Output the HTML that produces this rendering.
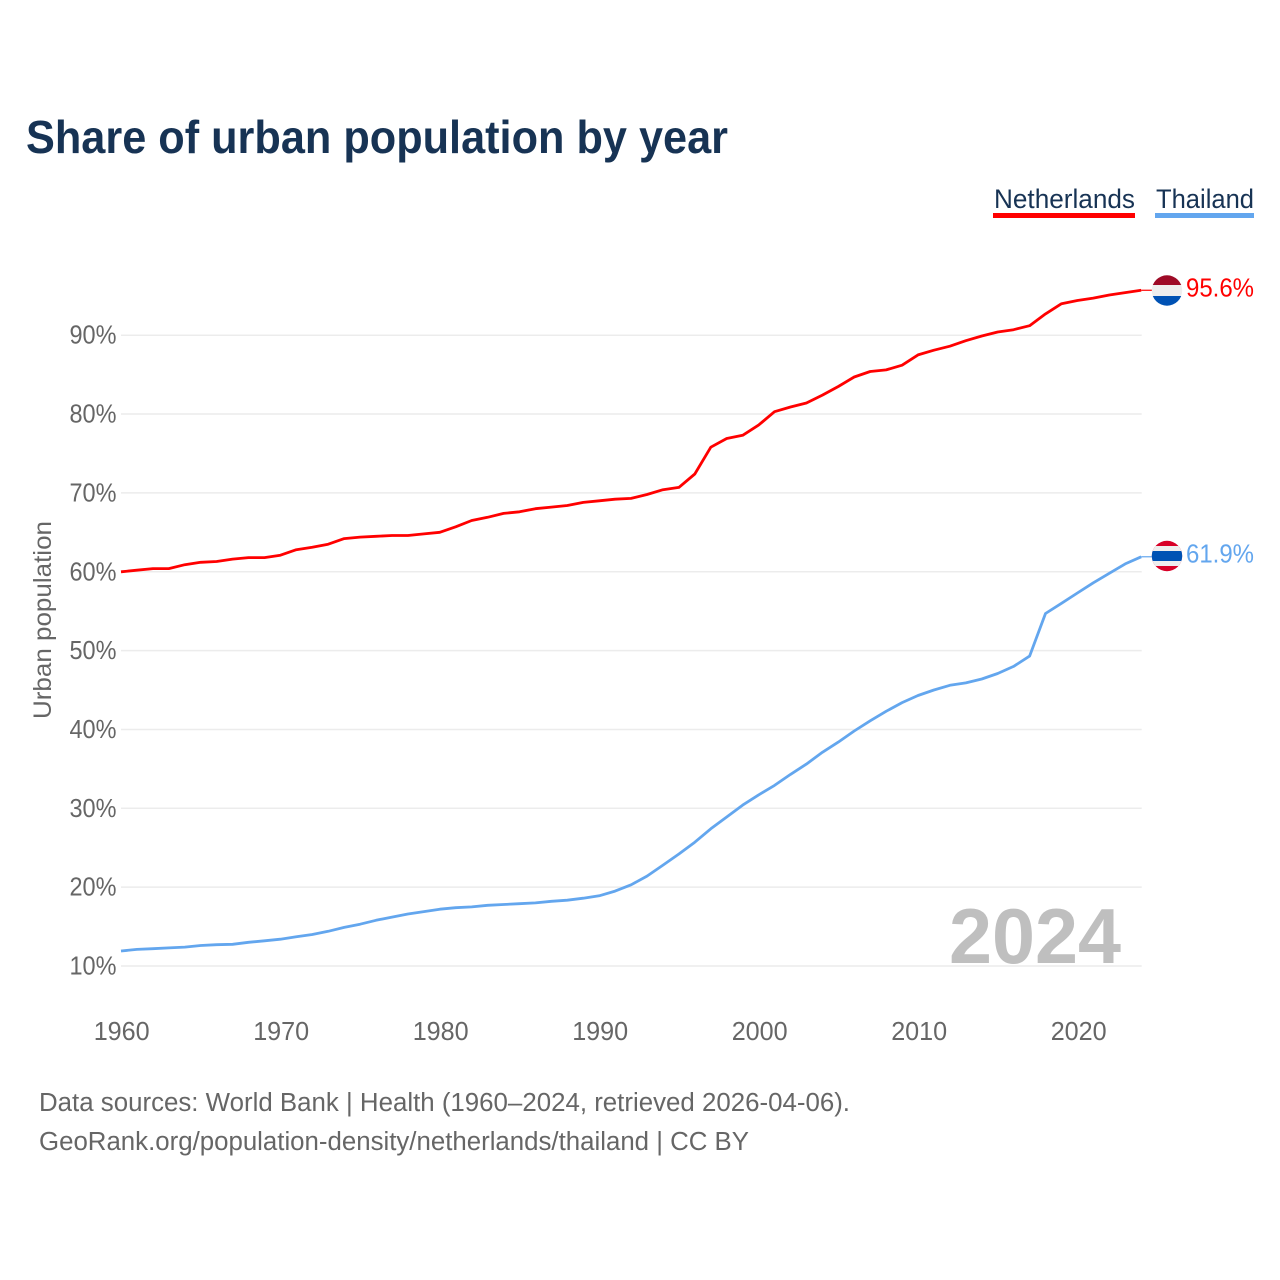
<!DOCTYPE html>
<html lang="en">
<head>
<meta charset="utf-8">
<title>Share of urban population by year</title>
<style>
html,body{margin:0;padding:0;background:#fff;}
svg{display:block;font-family:"Liberation Sans",sans-serif;}
</style>
</head>
<body>
<svg id="chart" xmlns="http://www.w3.org/2000/svg" width="1280" height="1280" viewBox="0 0 1280 1280">
  <defs>
    <clipPath id="clip-nl"><circle cx="1167" cy="290.5" r="15.2"/></clipPath>
    <clipPath id="clip-th"><circle cx="1167" cy="556" r="15.2"/></clipPath>
  </defs>
  <rect width="1280" height="1280" fill="#fff"/>
  <text x="26" y="153" font-size="46" font-weight="700" fill="#173354" textLength="702" lengthAdjust="spacingAndGlyphs">Share of urban population by year</text>

  <g>
    <text x="994" y="208" font-size="27" fill="#173354" textLength="141" lengthAdjust="spacingAndGlyphs">Netherlands</text>
    <rect x="993" y="213" width="142" height="5" fill="#ff0000"/>
  </g>
  <g>
    <text x="1156" y="208" font-size="27" fill="#173354" textLength="98" lengthAdjust="spacingAndGlyphs">Thailand</text>
    <rect x="1155" y="213" width="99" height="5" fill="#63a6ee"/>
  </g>

  <g id="grid"></g>
  <g id="yticks"></g>
  <g id="xticks"></g>
  <text transform="translate(51,719) rotate(-90)" font-size="25" fill="#666666" textLength="198" lengthAdjust="spacingAndGlyphs">Urban population</text>

  <text x="1121" y="963" text-anchor="end" font-size="78" font-weight="700" fill="#bfbfbf" textLength="172" lengthAdjust="spacingAndGlyphs">2024</text>

  <g id="series"></g>

  <g clip-path="url(#clip-nl)">
    <rect x="1151" y="275" width="32" height="10" fill="#9e0b27"/>
    <rect x="1151" y="285" width="32" height="11" fill="#eeeeee"/>
    <rect x="1151" y="296" width="32" height="11" fill="#0052b4"/>
  </g>
  <g clip-path="url(#clip-th)">
    <rect x="1151" y="540" width="32" height="32" fill="#d80027"/>
    <rect x="1151" y="546" width="32" height="20" fill="#eeeeee"/>
    <rect x="1151" y="551" width="32" height="10" fill="#0052b4"/>
  </g>
  <text x="1186" y="296.5" font-size="25.5" fill="#ff0000" textLength="68" lengthAdjust="spacingAndGlyphs">95.6%</text>
  <text x="1186" y="562.5" font-size="25.5" fill="#63a6ee" textLength="68" lengthAdjust="spacingAndGlyphs">61.9%</text>

  <text x="39" y="1111" font-size="25.5" fill="#666666" textLength="811" lengthAdjust="spacingAndGlyphs">Data sources: World Bank | Health (1960–2024, retrieved 2026-04-06).</text>
  <text x="39" y="1150" font-size="25.5" fill="#666666" textLength="710" lengthAdjust="spacingAndGlyphs">GeoRank.org/population-density/netherlands/thailand | CC BY</text>
</svg>
<script>
const years = [1960,1961,1962,1963,1964,1965,1966,1967,1968,1969,1970,1971,1972,1973,1974,1975,1976,1977,1978,1979,1980,1981,1982,1983,1984,1985,1986,1987,1988,1989,1990,1991,1992,1993,1994,1995,1996,1997,1998,1999,2000,2001,2002,2003,2004,2005,2006,2007,2008,2009,2010,2011,2012,2013,2014,2015,2016,2017,2018,2019,2020,2021,2022,2023,2024];
const netherlands = [60.0,60.2,60.4,60.4,60.9,61.2,61.3,61.6,61.8,61.8,62.1,62.8,63.1,63.5,64.2,64.4,64.5,64.6,64.6,64.8,65.0,65.7,66.5,66.9,67.4,67.6,68.0,68.2,68.4,68.8,69.0,69.2,69.3,69.8,70.4,70.7,72.4,75.8,76.9,77.3,78.6,80.3,80.9,81.4,82.4,83.5,84.7,85.4,85.6,86.2,87.5,88.1,88.6,89.3,89.9,90.4,90.7,91.2,92.7,94.0,94.4,94.7,95.1,95.4,95.7];
const thailand = [11.9,12.1,12.2,12.3,12.4,12.6,12.7,12.75,13.0,13.2,13.4,13.7,14.0,14.4,14.9,15.3,15.8,16.2,16.6,16.9,17.2,17.4,17.5,17.7,17.8,17.9,18.0,18.2,18.35,18.6,18.9,19.5,20.3,21.4,22.8,24.2,25.7,27.4,28.9,30.4,31.7,32.9,34.3,35.6,37.1,38.4,39.8,41.1,42.3,43.4,44.3,45.0,45.6,45.9,46.4,47.1,48.0,49.3,54.7,56.0,57.3,58.6,59.8,61.0,61.9];
const yTickValues = [10,20,30,40,50,60,70,80,90];
const xTickValues = [1960,1970,1980,1990,2000,2010,2020];

const SVG_NS = 'http://www.w3.org/2000/svg';
function xScale(year) { return 121 + (year - 1960) * 15.94; }
function xLabelScale(year) { return 121.7 + (year - 1960) * 15.95; }
function yScale(pct) { return 966 - (pct - 10) * 7.885; }

function make(tag, parent, attrs) {
  const el = document.createElementNS(SVG_NS, tag);
  for (const k in attrs) el.setAttribute(k, attrs[k]);
  parent.appendChild(el);
  return el;
}

const grid = document.getElementById('grid');
const yticks = document.getElementById('yticks');
yTickValues.forEach(function (v) {
  const line = make('line', grid, {x1: 121, x2: 1141.7, y1: yScale(v), y2: yScale(v), stroke: '#ececec', 'stroke-width': 1.5});
  
  
  const label = make('text', yticks, {x: 116.5, y: yScale(v) + 8.5, 'text-anchor': 'end', 'font-size': 25.5, fill: '#666666', textLength: 47, lengthAdjust: 'spacingAndGlyphs'});
  
  
  label.textContent = v + '%';
});

const xticks = document.getElementById('xticks');
xTickValues.forEach(function (v) {
  const label = make('text', xticks, {x: xLabelScale(v), y: 1040, 'text-anchor': 'middle', 'font-size': 25.5, fill: '#666666', textLength: 56, lengthAdjust: 'spacingAndGlyphs'});
  
  
  label.textContent = v;
});

const seriesGroup = document.getElementById('series');
function drawSeries(values, color) {
  const pts = values.map(function (v, i) { return xScale(years[i]).toFixed(1) + ',' + yScale(v).toFixed(1); });
  return make('polyline', seriesGroup, {points: pts.join(' '), fill: 'none', stroke: color, 'stroke-width': 2.8, 'stroke-linejoin': 'round'});
}
function drawStub(values, color) {
  const last = values.length - 1;
  return make('line', seriesGroup, {x1: xScale(years[last]), x2: 1153, y1: yScale(values[last]), y2: yScale(values[last]), stroke: color, 'stroke-width': 1.2});
}
const nlLine = drawSeries(netherlands, '#ff0000');


const nlStub = drawStub(netherlands, '#ff0000');


const thLine = drawSeries(thailand, '#63a6ee');


const thStub = drawStub(thailand, '#63a6ee');


</script>
</body>
</html>
